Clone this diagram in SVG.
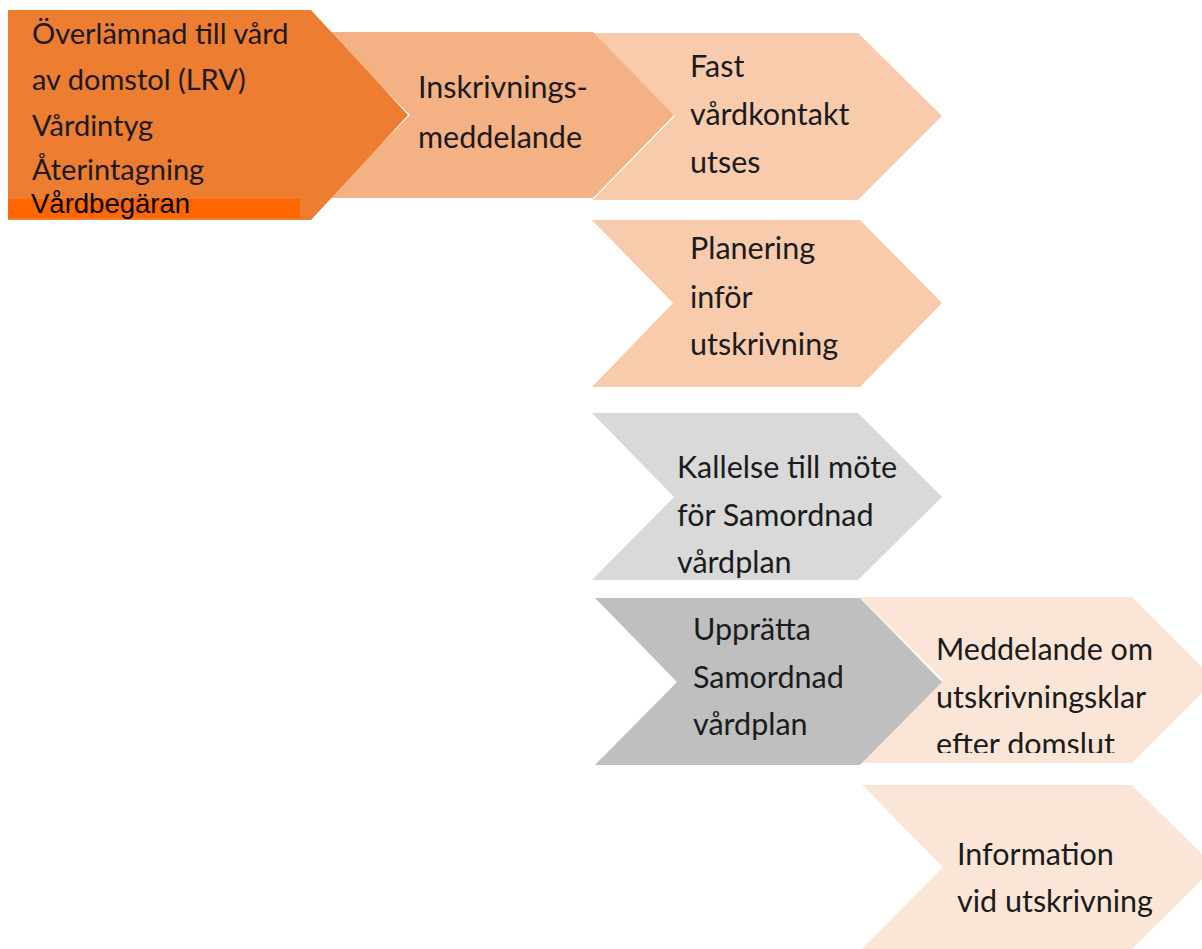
<svg xmlns="http://www.w3.org/2000/svg" width="1202" height="949" viewBox="0 0 1202 949">
<style>
.t{font-family:Lato,"Open Sans","Noto Sans",sans-serif;font-size:30.5px;fill:#1b1b1b}
.t1{font-family:Lato,"Open Sans","Noto Sans",sans-serif;font-size:29px;fill:#1b1b1b}
.a{font-family:"Liberation Sans",Arial,sans-serif;font-size:27.5px;fill:#000}
</style>
<defs>
<clipPath id="c7"><rect x="850" y="590" width="352" height="163"/></clipPath>
</defs>
<rect width="1202" height="949" fill="#fff"/>
<g id="connectors"></g>
<g id="n8">
<polygon points="862,785 1132,785 1215,867 1132,949 862,949 943,867" fill="#FBE5D6"/>
<text class="t"><tspan x="957" y="865">Information</tspan><tspan x="957" y="912">vid utskrivning</tspan></text>
</g>
<g id="n7">
<polygon points="860,597 1132,597 1215,680 1132,763 860,763 943,680" fill="#FBE5D6"/>
<text class="t" clip-path="url(#c7)"><tspan x="936" y="660">Meddelande om</tspan><tspan x="936" y="708">utskrivningsklar</tspan><tspan x="936" y="755">efter domslut</tspan></text>
</g>
<g id="n6">
<polygon points="595,598 860,598 942,682 860,765 595,765 677,682" fill="#BFBFBF"/>
<text class="t"><tspan x="693" y="640">Upprätta</tspan><tspan x="693" y="688">Samordnad</tspan><tspan x="693" y="735">vårdplan</tspan></text>
</g>
<g id="n5">
<polygon points="592,413 858,413 942,497 858,580 592,580 674,497" fill="#D9D9D9"/>
<text class="t"><tspan x="677" y="478">Kallelse till möte</tspan><tspan x="677" y="526">för Samordnad</tspan><tspan x="677" y="573">vårdplan</tspan></text>
</g>
<g id="n4">
<polygon points="592,220 860,220 942,303 860,387 592,387 673,303" fill="#F8CBAD"/>
<text class="t"><tspan x="690" y="259">Planering</tspan><tspan x="690" y="308">inför</tspan><tspan x="690" y="355">utskrivning</tspan></text>
</g>
<g id="n3">
<polygon points="593,33 858,33 942,116 858,200 593,200 675,116" fill="#F8CBAD"/>
<text class="t"><tspan x="690" y="77">Fast</tspan><tspan x="690" y="125">vårdkontakt</tspan><tspan x="690" y="173">utses</tspan></text>
</g>
<g id="n2">
<polygon points="327,32 593,32 674,115 593,198 327,198 410,115" fill="#F4B183"/>
<text class="t"><tspan x="418" y="98">Inskrivnings-</tspan><tspan x="418" y="148">meddelande</tspan></text>
</g>
<g id="n1">
<polygon points="8,10 311,10 408,115 311,220 8,220" fill="#ED7D31"/>
<rect x="8" y="199" width="292" height="19" fill="#FF6600"/>
<text class="t1"><tspan x="32" y="44">Överlämnad till vård</tspan><tspan x="32" y="90">av domstol (LRV)</tspan><tspan x="32" y="136">Vårdintyg</tspan><tspan x="32" y="180">Återintagning</tspan></text>
<text class="a" x="31" y="213">Vårdbegäran</text>
</g>
</svg>
